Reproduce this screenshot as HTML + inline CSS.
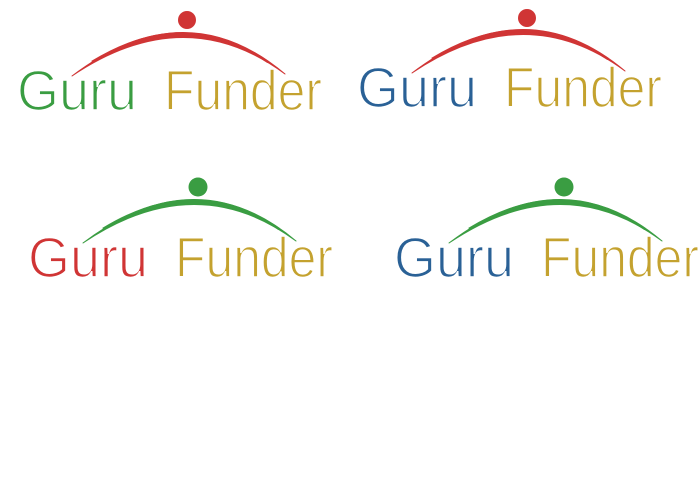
<!DOCTYPE html>
<html><head><meta charset="utf-8"><style>html,body{margin:0;padding:0;background:#fff;width:700px;height:500px;overflow:hidden}</style></head>
<body>
<svg width="700" height="500" viewBox="0 0 700 500" xmlns="http://www.w3.org/2000/svg">
<g font-family="Liberation Sans, sans-serif" font-size="57" stroke="#fff" stroke-width="1.6">
  <g>
    <path d="M72,76 Q185,-10 285,74 Q185,0 72,76 Z" fill="#d03535" stroke="#d03535" stroke-width="1" stroke-linejoin="round"/>
    <path d="M92,62 Q185,5 268,62" fill="none" stroke="#d03535" stroke-width="2.5"/>
    <circle cx="187" cy="20" r="9" fill="#d03535" stroke="none"/>
    <text x="17" y="110" fill="#3a9d42" textLength="120" lengthAdjust="spacingAndGlyphs">Guru</text>
    <text x="164" y="110" fill="#c4a22f" textLength="158" lengthAdjust="spacingAndGlyphs">Funder</text>
  </g>
  <g transform="translate(340,-3)">
    <path d="M72,76 Q185,-10 285,74 Q185,0 72,76 Z" fill="#d03535" stroke="#d03535" stroke-width="1" stroke-linejoin="round"/>
    <path d="M92,62 Q185,5 268,62" fill="none" stroke="#d03535" stroke-width="2.5"/>
    <circle cx="187" cy="21" r="9" fill="#d03535" stroke="none"/>
    <text x="17" y="110" fill="#2a6196" textLength="120" lengthAdjust="spacingAndGlyphs">Guru</text>
    <text x="164" y="110" fill="#c4a22f" textLength="158" lengthAdjust="spacingAndGlyphs">Funder</text>
  </g>
  <g transform="translate(11,167)">
    <path d="M72,76 Q185,-10 285,74 Q185,0 72,76 Z" fill="#3a9d42" stroke="#3a9d42" stroke-width="1" stroke-linejoin="round"/>
    <path d="M92,62 Q185,5 268,62" fill="none" stroke="#3a9d42" stroke-width="2.5"/>
    <circle cx="187" cy="20" r="9.5" fill="#3a9d42" stroke="none"/>
    <text x="17" y="110" fill="#d03535" textLength="120" lengthAdjust="spacingAndGlyphs">Guru</text>
    <text x="164" y="110" fill="#c4a22f" textLength="158" lengthAdjust="spacingAndGlyphs">Funder</text>
  </g>
  <g transform="translate(377,167)">
    <path d="M72,76 Q185,-10 285,74 Q185,0 72,76 Z" fill="#3a9d42" stroke="#3a9d42" stroke-width="1" stroke-linejoin="round"/>
    <path d="M92,62 Q185,5 268,62" fill="none" stroke="#3a9d42" stroke-width="2.5"/>
    <circle cx="187" cy="20" r="9.5" fill="#3a9d42" stroke="none"/>
    <text x="17" y="110" fill="#2a6196" textLength="120" lengthAdjust="spacingAndGlyphs">Guru</text>
    <text x="164" y="110" fill="#c4a22f" textLength="158" lengthAdjust="spacingAndGlyphs">Funder</text>
  </g>
</g>
</svg>
</body></html>
